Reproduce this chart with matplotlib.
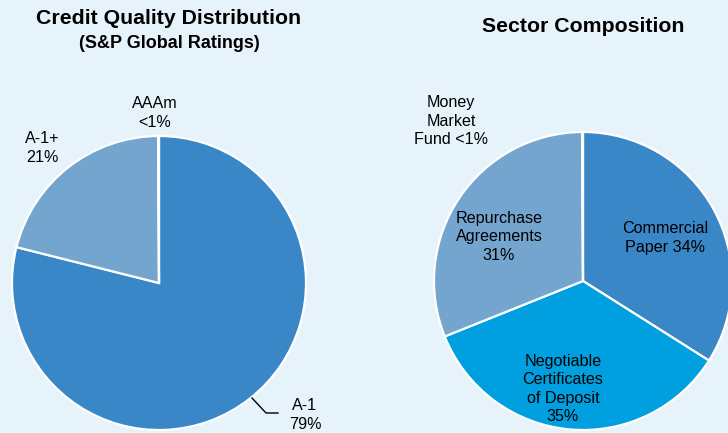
import matplotlib.pyplot as plt

plt.rcParams['font.family'] = ['Liberation Sans', 'DejaVu Sans']

# Credit quality (clockwise from 12 o'clock)
credit_labels = ['A-1\n79%', 'A-1+\n21%', 'AAAm\n<1%']
credit_values = [79, 21, 0.1]
credit_colors = ['#3A87C8', '#74A5CF', '#3A87C8']

# Sector composition (clockwise from 12 o'clock)
sector_labels = ['Commercial\nPaper 34%', 'Negotiable\nCertificates\nof Deposit\n35%',
                 'Repurchase\nAgreements\n31%', 'Money\nMarket\nFund <1%']
sector_values = [34, 35, 31, 0.1]
sector_colors = ['#3A87C8', '#00A0E0', '#74A5CF', '#74A5CF']

bg = '#E6F3FB'
W, H = 728, 433

fig = plt.figure(figsize=(W / 100, H / 100), dpi=100, facecolor=bg)
ax = fig.add_axes([0, 0, 1, 1])
ax.set_facecolor(bg)

wedge_style = dict(edgecolor='white', linewidth=1.6)
ax.pie(credit_values, colors=credit_colors, startangle=90, counterclock=False,
       center=(159, H - 283), radius=147, wedgeprops=wedge_style, frame=False)
ax.pie(sector_values, colors=sector_colors, startangle=90, counterclock=False,
       center=(583, H - 281), radius=149, wedgeprops=wedge_style, frame=False)

ax.set_xlim(0, W)
ax.set_ylim(0, H)
ax.set_aspect('equal')
ax.axis('off')

# titles
ax.text(169, H - 19, 'Credit Quality Distribution', ha='center', va='center',
        fontsize=15.3, fontweight='bold')
ax.text(169, H - 44, '(S&P Global Ratings)', ha='center', va='center',
        fontsize=13, fontweight='bold')
ax.text(583, H - 27, 'Sector Composition', ha='center', va='center',
        fontsize=15.3, fontweight='bold')

lab = dict(ha='center', va='center', fontsize=11.6, linespacing=1.3)

# credit labels
credit_pos = [(305, 415), (42, 148), (155, 113)]
for t, (x, y) in zip(credit_labels, credit_pos):
    ax.text(x, H - y, t, **lab)
ax.plot([252, 266, 278], [H - 398, H - 413, H - 413], color='black', lw=1)

# sector labels
sector_pos = [(665, 238), (563, 389), (499, 237), (451, 121)]
for t, (x, y) in zip(sector_labels, sector_pos):
    ax.text(x, H - y, t, **lab)

fig.savefig('out.png', dpi=100, facecolor=bg)
